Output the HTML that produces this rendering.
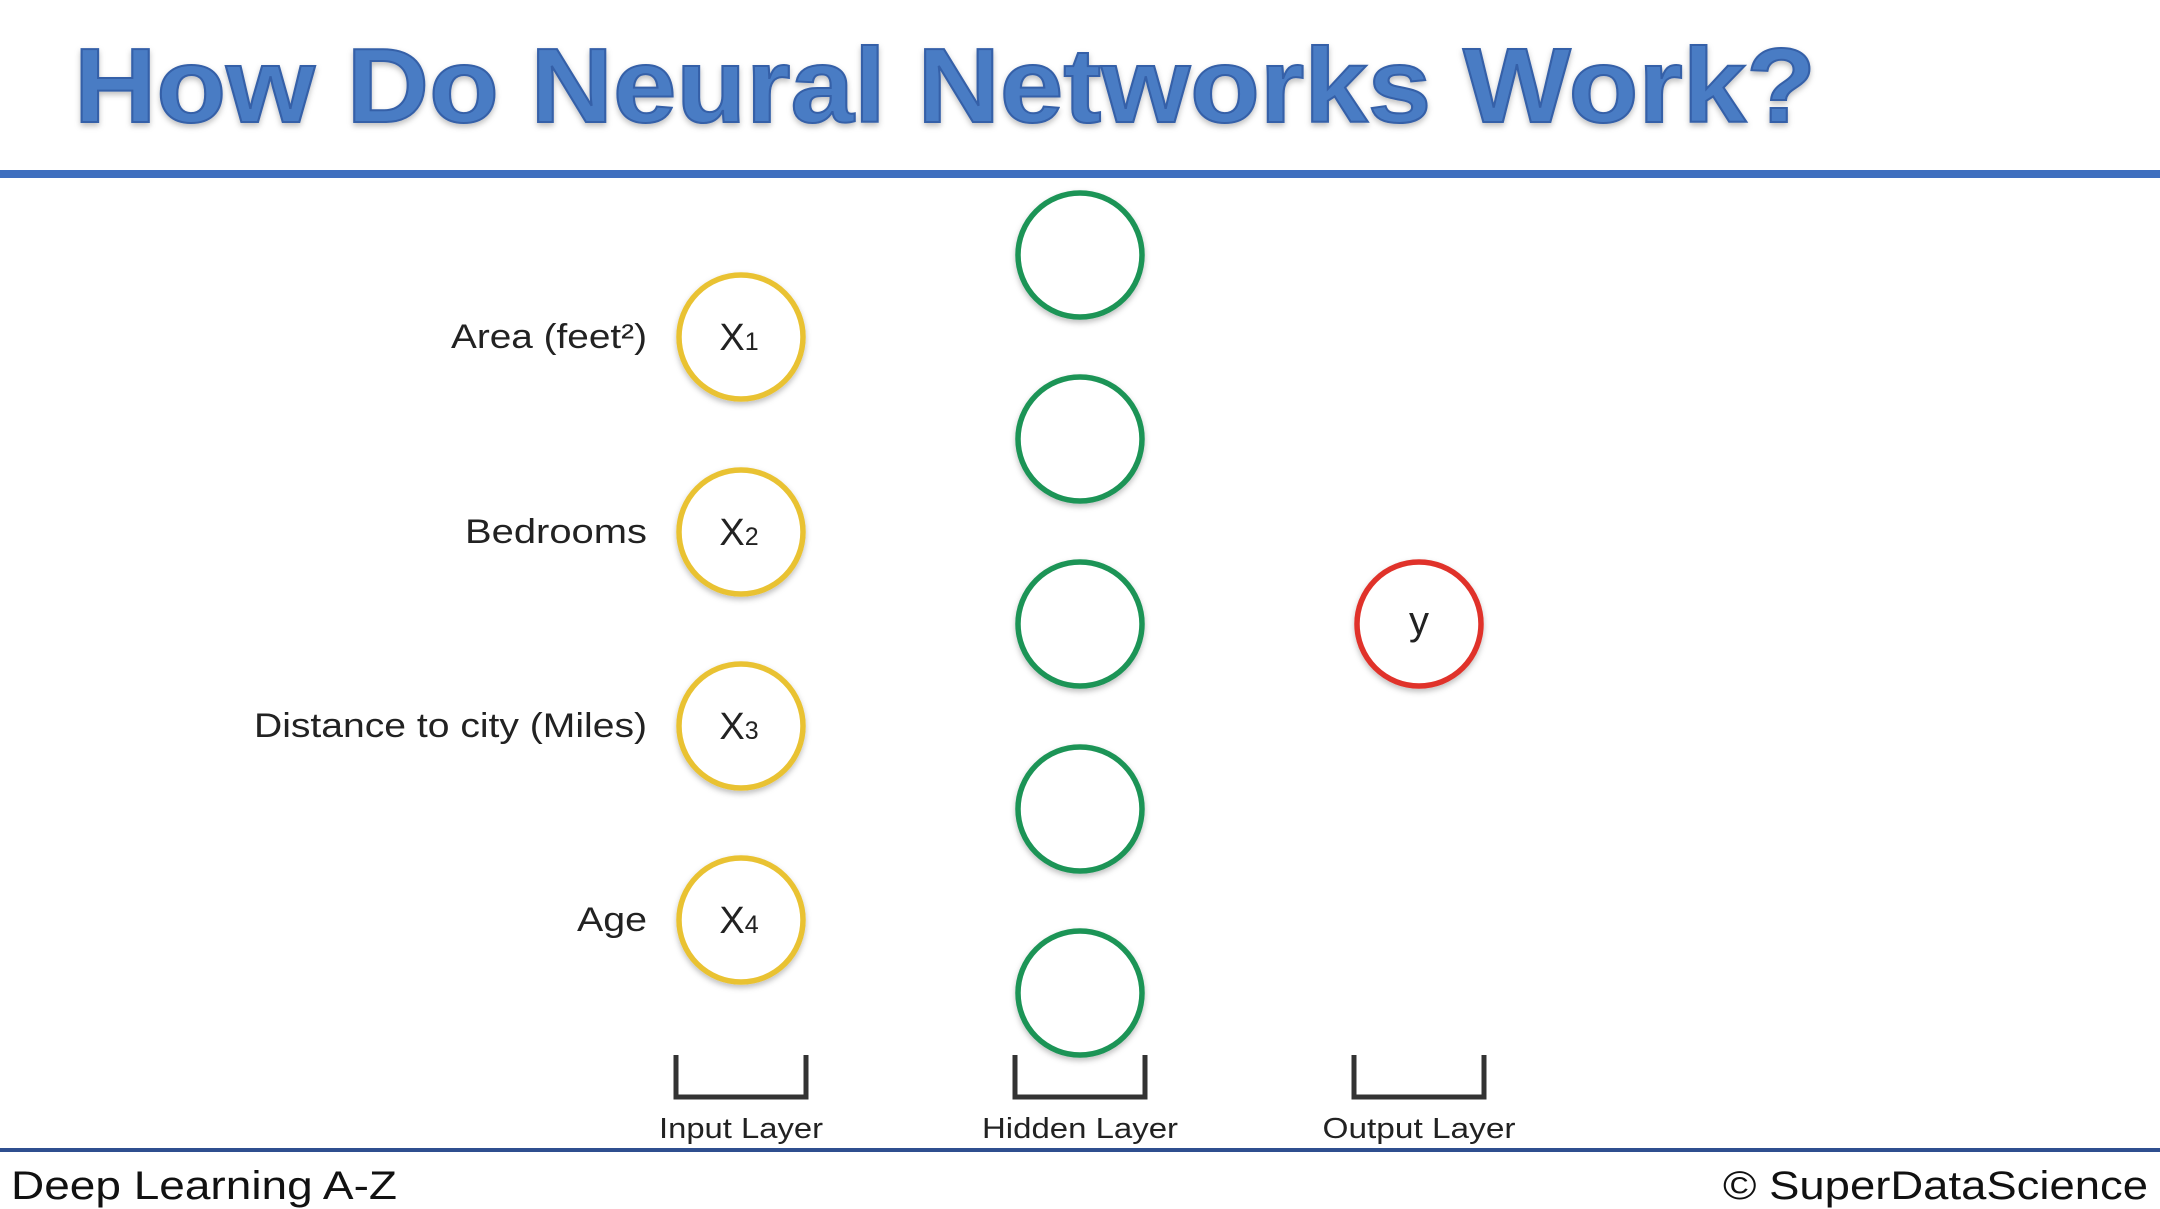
<!DOCTYPE html>
<html><head><meta charset="utf-8"><style>
html,body{margin:0;padding:0;background:#fff;width:2160px;height:1209px;overflow:hidden}
svg{display:block}
text{font-family:"Liberation Sans",sans-serif}
</style></head><body>
<svg width="2160" height="1209" viewBox="0 0 2160 1209">
<defs><filter id="sh" x="-20%" y="-20%" width="140%" height="140%"><feDropShadow dx="0" dy="3" stdDeviation="3" flood-color="#000" flood-opacity="0.25"/></filter></defs>
<text x="74" y="122" font-size="106" font-weight="bold" fill="#4a7cc4" stroke="#3560a8" stroke-width="2" textLength="1742" lengthAdjust="spacingAndGlyphs" filter="url(#sh)">How Do Neural Networks Work?</text>
<rect x="0" y="170" width="2160" height="8" fill="#3f6fbf"/>
<g id="g" font-size="33" fill="#222"></g>
<rect x="0" y="1148" width="2160" height="4" fill="#2f4f8f"/>
<text x="11" y="1199" font-size="40" fill="#111" textLength="386" lengthAdjust="spacingAndGlyphs">Deep Learning A-Z</text>
<text x="2148" y="1199" font-size="40" fill="#111" text-anchor="end" textLength="425" lengthAdjust="spacingAndGlyphs">© SuperDataScience</text>
</svg>
<script>
const ns='http://www.w3.org/2000/svg';
const g=document.getElementById('g');
const inputLabels=['Area (feet²)','Bedrooms','Distance to city (Miles)','Age'];
const inputLabelW=[196,182,393,70];
const inputSubs=['1','2','3','4'];
const inputY=[337,532,726,920];
const hiddenY=[255,439,624,809,993];
const layerNames=['Input Layer','Hidden Layer','Output Layer'];
const layerLabelW=[164,196,193];
const layerX=[741,1080,1419];
function mk(t,a){const e=document.createElementNS(ns,t);for(const k in a)e.setAttribute(k,a[k]);g.appendChild(e);return e;}
function circ(x,y,c){return mk('circle',{cx:x,cy:y,r:62,fill:'#fff',stroke:c,'stroke-width':5.5,filter:'url(#sh)'});}
inputY.forEach((y,i)=>{
  const c=circ(layerX[0],y,'#e9c232');
  
  
  const t=mk('text',{x:layerX[0]-2,y:y+13,'text-anchor':'middle','font-size':38});
  t.innerHTML='X<tspan font-size="25">'+inputSubs[i]+'</tspan>';
  
  
  const l=mk('text',{x:647,y:y+11,'text-anchor':'end',textLength:inputLabelW[i],lengthAdjust:'spacingAndGlyphs','font-size':34});
  l.textContent=inputLabels[i];
  
  
});
hiddenY.forEach((y,i)=>{
  const c=circ(layerX[1],y,'#1a9457');
  
  
});
const o=circ(layerX[2],624,'#e0322a');


const oy=mk('text',{x:layerX[2],y:634,'text-anchor':'middle','font-size':40});
oy.textContent='y';


layerNames.forEach((n,i)=>{
  const x=layerX[i];
  const b=mk('path',{d:`M${x-65} 1055 V1097 H${x+65} V1055`,fill:'none',stroke:'#333','stroke-width':5});
  
  
  const t=mk('text',{x:x,y:1138,'text-anchor':'middle','font-size':29,textLength:layerLabelW[i],lengthAdjust:'spacingAndGlyphs'});
  t.textContent=n;
  
  
});
</script>
</body></html>
